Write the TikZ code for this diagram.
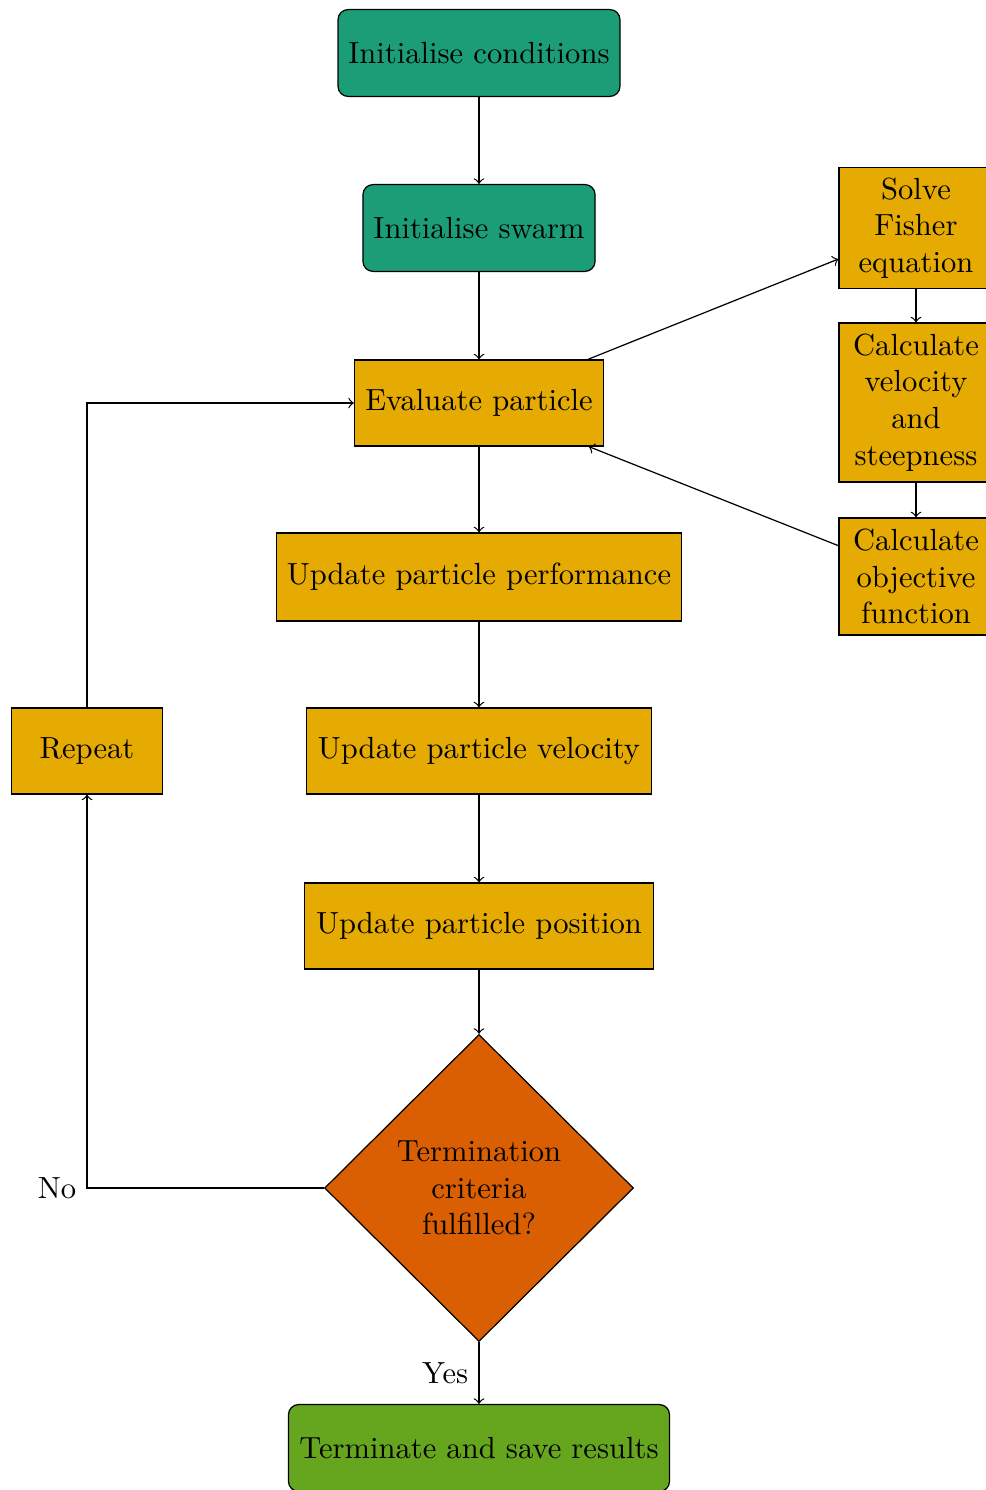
\documentclass[tikz,border=0pt]{standalone}
\usetikzlibrary{shapes.geometric,arrows}
\definecolor{dteal}{HTML}{1B9E77}
\definecolor{dyellow}{HTML}{E6AB02}
\definecolor{dorange}{HTML}{D95F02}
\definecolor{dgreen}{HTML}{66A61E}
\begin{document}
\begin{tikzpicture}[x=0.327pt,y=-0.327pt,
  startbox/.style={draw,rounded corners=3.3pt,fill=dteal,inner sep=0pt,minimum height=28.4pt},
  procbox/.style={draw,fill=dyellow,inner sep=0pt,minimum height=28.1pt},
  sidebox/.style={draw,fill=dyellow,inner sep=0pt,minimum width=50.4pt,text width=48pt,align=center},
  endbox/.style={draw,rounded corners=3.3pt,fill=dgreen,inner sep=0pt,minimum height=28.4pt},
  decbox/.style={draw,diamond,fill=dorange,inner sep=0pt,minimum width=101pt,minimum height=100.4pt,align=center},
  arr/.style={->,>=to}]
\useasboundingbox (0,0) rectangle (986,1490);
\node[startbox,minimum width=92.2pt] (init) at (479,53) {Initialise conditions};
\node[startbox,minimum width=75.9pt] (swarm) at (479,228) {Initialise swarm};
\node[procbox,minimum width=81.4pt] (eval) at (479,403) {Evaluate particle};
\node[procbox,minimum width=132.4pt,minimum height=28.8pt] (perf) at (479,577) {Update particle performance};
\node[procbox,minimum width=112.8pt] (vel) at (479,751) {Update particle velocity};
\node[procbox,minimum width=114.1pt] (pos) at (479,926) {Update particle position};
\node[decbox] (term) at (479,1188) {Termination\\criteria\\fulfilled?};
\node[endbox,minimum width=124.6pt] (save) at (479,1448) {Terminate and save results};
\node[procbox,minimum width=49.4pt] (rep) at (87,751) {Repeat};
\node[sidebox,minimum height=39.6pt] (solve) at (916,228) {Solve\\Fisher\\equation};
\node[sidebox,minimum height=52pt] (cvel) at (916,402.5) {Calculate\\velocity\\and\\steepness};
\node[sidebox,minimum height=38.3pt] (obj) at (916,576.5) {Calculate\\objective\\function};
\coordinate (nocorner) at (87,1188);
\coordinate (repcorner) at (87,403);
\draw[arr] (init) -- (swarm);
\draw[arr] (swarm) -- (eval);
\draw[arr] (eval) -- (perf);
\draw[arr] (perf) -- (vel);
\draw[arr] (vel) -- (pos);
\draw[arr] (pos) -- (term);
\draw[arr] (term) -- node[left,pos=0.5] {Yes} (save);
\draw[arr] (term.west) -- (nocorner) node[left] {No} -- (rep.south);
\draw[arr] (rep.north) -- (repcorner) -- (eval.west);
\draw[arr] (eval) -- (solve);
\draw[arr] (solve) -- (cvel);
\draw[arr] (cvel) -- (obj);
\draw[arr] (obj) -- (eval);
\end{tikzpicture}
\end{document}
